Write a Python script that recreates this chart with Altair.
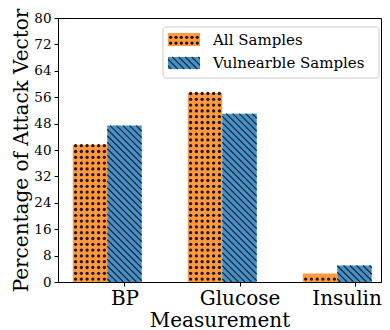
import altair as alt
import pandas as pd

categories = ["BP", "Glucose", "Insulin"]
series = ["All Samples", "Vulnearble Samples"]
all_samples = [41.6, 57.3, 2.6]
vulnerable_samples = [47.4, 51.0, 5.0]
y_ticks = [0, 8, 16, 24, 32, 40, 48, 56, 64, 72, 80]

W, H = 323, 264
XDOM = [-0.578, 2.230]
YDOM = [0, 80]
KX = W / (XDOM[1] - XDOM[0])
KY = H / (YDOM[1] - YDOM[0])
BW = 0.3
ORANGE = "#ff9a40"
BLUE = "#4a90c4"
DOT = "#24160b"
STRIPE = "#0e2a42"
FONT = "DejaVu Serif"


def px2x(px):
    return XDOM[0] + px / KX


def py2y(py):  # py measured downward from plot top
    return YDOM[1] - py / KY


rows = []
for i, c in enumerate(categories):
    rows.append(dict(cat=c, series=series[0], x=i - 1.5 * BW, x2=i - 0.5 * BW, y=all_samples[i], y2=0.0))
    rows.append(dict(cat=c, series=series[1], x=i - 0.5 * BW, x2=i + 0.5 * BW, y=vulnerable_samples[i], y2=0.0))

# legend box and swatches (given in plot pixels, converted to data units)
LBOX = (105, 321, 9, 60)
SW = [(110, 142, 15, 28), (110, 142, 39, 51)]
leg_box = pd.DataFrame([dict(x=px2x(LBOX[0]), x2=px2x(LBOX[1]), y=py2y(LBOX[2]), y2=py2y(LBOX[3]))])
for s, (a, b, c, d) in zip(series, SW):
    rows.append(dict(cat="legend", series=s, x=px2x(a), x2=px2x(b), y=py2y(c), y2=py2y(d)))
rects = pd.DataFrame(rows)
bars = rects[rects.cat != "legend"]
leg_sw = rects[rects.cat == "legend"]


def dot_texture(x0, x1, y0, y1, sx=5.7, sy=5.8):
    pts = []
    ncol = max(1, round((x1 - x0) / sx))
    step = (x1 - x0) / ncol
    yy = y0 + sy / 2
    while yy < y1:
        for k in range(ncol):
            pts.append((x0 + (k + 0.5) * step, yy))
        yy += sy
    return pts


def stripe_texture(x0, x1, y0, y1, s=6.5):
    segs = []
    c = x0 + s / 2
    while c < x1 + (y1 - y0):
        ylo = max(y0, y0 + c - x1)
        yhi = min(y1, y0 + c - x0)
        if yhi > ylo:
            segs.append((c - (ylo - y0), ylo, c - (yhi - y0), yhi))
        c += s
    return segs


dots, stripes = [], []
for _, r in rects.iterrows():
    px0, px1 = r.x * KX, r.x2 * KX
    py0, py1 = r.y2 * KY, r.y * KY
    if r.series == series[0]:
        for (px, py) in dot_texture(px0, px1, py0, py1):
            dots.append(dict(x=px / KX, y=py / KY))
    else:
        for (a, b, c2, d) in stripe_texture(px0, px1, py0, py1):
            stripes.append(dict(x=a / KX, y=b / KY, x2=c2 / KX, y2=d / KY))
dots = pd.DataFrame(dots)
stripes = pd.DataFrame(stripes)

xs = alt.Scale(domain=XDOM, nice=False, zero=False)
ys = alt.Scale(domain=YDOM, nice=False)

label_expr = "[" + ",".join("'%s'" % c for c in categories) + "][datum.value]"
x_axis = alt.Axis(
    values=list(range(len(categories))), labelExpr=label_expr, title="Measurement",
    grid=False, tickSize=4, labelFontSize=20, titleFontSize=20, labelFont=FONT,
    titleFont=FONT, titleFontWeight="normal", labelColor="black", titleColor="black",
    domainColor="black", tickColor="black", labelPadding=2, titlePadding=2,
    labelFlush=False, labelOverlap=False,
    labelOffset={"expr": "datum.value == %d ? -8 : 0" % (len(categories) - 1)})
y_axis = alt.Axis(
    values=y_ticks, title="Percentage of Attack Vector", grid=False, tickSize=4,
    labelFontSize=13.5, titleFontSize=20, labelFont=FONT, titleFont=FONT,
    titleFontWeight="normal", labelColor="black", titleColor="black",
    domainColor="black", tickColor="black", labelPadding=3, titlePadding=2,
    labelOverlap=False)

X = alt.X("x:Q", scale=xs, axis=x_axis)
Y = alt.Y("y:Q", scale=ys, axis=y_axis)
col = alt.Color("series:N", scale=alt.Scale(domain=series, range=[ORANGE, BLUE]), legend=None)

bar_layer = alt.Chart(bars).mark_rect(strokeWidth=0).encode(x=X, x2="x2:Q", y=Y, y2="y2:Q", color=col)
box_layer = alt.Chart(leg_box).mark_rect(
    fill="white", fillOpacity=0.8, stroke="#cccccc", strokeWidth=1, cornerRadius=3).encode(
    x=X, x2="x2:Q", y=Y, y2="y2:Q")
sw_layer = alt.Chart(leg_sw).mark_rect(strokeWidth=0).encode(x=X, x2="x2:Q", y=Y, y2="y2:Q", color=col)
dot_layer = alt.Chart(dots).mark_circle(size=11, color=DOT, opacity=1).encode(x=X, y=Y)
stripe_layer = alt.Chart(stripes).mark_rule(color=STRIPE, strokeWidth=1.1).encode(
    x=X, y=Y, x2="x2:Q", y2="y2:Q")
leg_text = alt.Chart(pd.DataFrame({
    "series": series, "x": [px2x(155)] * 2,
    "y": [py2y((s[2] + s[3]) / 2) for s in SW]})).mark_text(
    align="left", baseline="middle", font=FONT, fontSize=15, color="black").encode(
    x=X, y=Y, text="series:N")

chart = alt.layer(bar_layer, box_layer, sw_layer, dot_layer, stripe_layer, leg_text).properties(
    width=W, height=H, autosize=alt.AutoSizeParams(type="none"),
    padding={"left": 50, "top": 10, "right": 1, "bottom": 48},
).configure_view(stroke="black", strokeWidth=1)

chart.save("out.html", embed_options={"renderer": "svg", "actions": False})
